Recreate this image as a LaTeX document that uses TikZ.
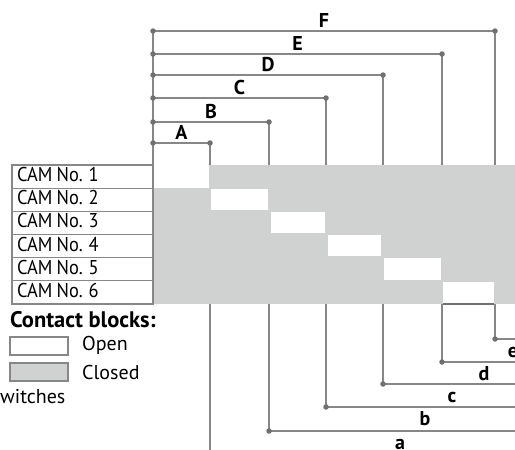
\documentclass[tikz,border=0pt]{standalone}
\usepackage{fontspec}
\setmainfont{PT Sans}
\newfontfamily\condfont{PT Sans}[FakeStretch=0.92, WordSpace=0.9]
\usetikzlibrary{calc}
\definecolor{dimgray}{RGB}{135,135,135}
\definecolor{dotgray}{RGB}{112,112,112}
\definecolor{closedgray}{RGB}{208,209,209}
\tikzset{
  dimline/.style={draw=dimgray, line width=1.1pt},
  dimdot/.style={circle, fill=dotgray, inner sep=0pt, minimum size=5.5pt},
  dimlabel/.style={font=\bfseries\fontsize{20}{20}\selectfont, inner sep=0pt, text height=14pt, text depth=0pt},
  camrow/.style={draw=dimgray, line width=1.1pt, minimum width=141pt, minimum height=23.17pt, outer sep=0pt,
    inner xsep=5pt, inner ysep=0pt, text height=14pt, text depth=4pt, font=\condfont\fontsize{20}{20}\selectfont},
  legbox/.style={draw=dimgray, line width=1.1pt, minimum width=58pt, minimum height=18pt, inner sep=0pt},
  legtext/.style={font=\fontsize{20}{20}\selectfont, inner sep=0pt, anchor=west}
}

\begin{document}
\begin{tikzpicture}[x=1pt,y=-1pt]
        \useasboundingbox (0,0) rectangle (515,450);
        \clip (0,0) rectangle (515,450);
        % column edges, on the top and bottom of the table
        \coordinate (top0) at (153,165); \coordinate (bot0) at (153,304);
        \coordinate (top1) at (210,165); \coordinate (bot1) at (210,304);
        \coordinate (top2) at (269,165); \coordinate (bot2) at (269,304);
        \coordinate (top3) at (326,165); \coordinate (bot3) at (326,304);
        \coordinate (top4) at (383,165); \coordinate (bot4) at (383,304);
        \coordinate (top5) at (442,165); \coordinate (bot5) at (442,304);
        \coordinate (top6) at (495,165); \coordinate (bot6) at (495,304);
        % closed area, then the open blocks
        \fill[closedgray] (top0) rectangle (515,304);
        \fill[white] (153,165) rectangle (209,188);
        \fill[white] (211,189) rectangle (268,210);
        \fill[white] (271,212) rectangle (325,233);
        \fill[white] (328,235) rectangle (381,256);
        \fill[white] (384,258) rectangle (441,280);
        \fill[white] (443,282) rectangle (494,303);
        \draw[dimline, draw=dotgray] (443,304) -- (494,304);
        \draw[dimline] (153,165) -- (153,188);
        % cam rows
        \node[camrow, anchor=north west] (cam1) at (12,165) {\makebox[131pt][l]{CAM No. 1}};
        \node[camrow, anchor=north] (cam2) at (cam1.south) {\makebox[131pt][l]{CAM No. 2}};
        \node[camrow, anchor=north] (cam3) at (cam2.south) {\makebox[131pt][l]{CAM No. 3}};
        \node[camrow, anchor=north] (cam4) at (cam3.south) {\makebox[131pt][l]{CAM No. 4}};
        \node[camrow, anchor=north] (cam5) at (cam4.south) {\makebox[131pt][l]{CAM No. 5}};
        \node[camrow, anchor=north] (cam6) at (cam5.south) {\makebox[131pt][l]{CAM No. 6}};
        % upper dimensions A to F
        \coordinate (A0) at (153,143); \coordinate (A1) at (210,143);
        \coordinate (B0) at (153,122); \coordinate (B1) at (269,122);
        \coordinate (C0) at (153,98);  \coordinate (C1) at (326,98);
        \coordinate (D0) at (153,75);  \coordinate (D1) at (383,75);
        \coordinate (E0) at (153,54);  \coordinate (E1) at (442,54);
        \coordinate (F0) at (153,31);  \coordinate (F1) at (495,31);
        \draw[dimline] (F0) -- (top0);
        \draw[dimline] (A0) -- (A1) -- (top1); \draw[dimline] (B0) -- (B1) -- (top2);
        \draw[dimline] (C0) -- (C1) -- (top3); \draw[dimline] (D0) -- (D1) -- (top4);
        \draw[dimline] (E0) -- (E1) -- (top5); \draw[dimline] (F0) -- (F1) -- (top6);
        \foreach \p in {A,B,C,D,E,F} {
            \node[dimdot] at (\p0) {}; \node[dimdot] at (\p1) {};
        }
        \node[dimlabel, above=3pt] (labA) at ($(A0)!0.5!(A1)$) {A};
        \node[dimlabel, above=3pt] (labB) at ($(B0)!0.5!(B1)$) {B};
        \node[dimlabel, above=3pt] (labC) at ($(C0)!0.5!(C1)$) {C};
        \node[dimlabel, above=3pt] (labD) at ($(D0)!0.5!(D1)$) {D};
        \node[dimlabel, above=3pt] (labE) at ($(E0)!0.5!(E1)$) {E};
        \node[dimlabel, above=3pt] (labF) at ($(F0)!0.5!(F1)$) {F};
        % lower dimensions a to e
        \coordinate (a0) at (269,431); \coordinate (a1) at (531,431);
        \coordinate (b0) at (326,407); \coordinate (b1) at (524,407);
        \coordinate (c0) at (383,384); \coordinate (c1) at (521,384);
        \coordinate (d0) at (442,362); \coordinate (d1) at (526,362);
        \coordinate (e0) at (495,339); \coordinate (e1) at (531,339);
        \coordinate (f0) at (210,460);
        \draw[dimline] (bot1) -- (f0);
        \draw[dimline] (bot2) -- (a0) -- (a1); \draw[dimline] (bot3) -- (b0) -- (b1);
        \draw[dimline] (bot4) -- (c0) -- (c1); \draw[dimline] (bot5) -- (d0) -- (d1);
        \draw[dimline] (bot6) -- (e0) -- (e1);
        \foreach \p in {a,b,c,d,e} {
            \node[dimdot] at (\p0) {};
        }
        \node[dimlabel, below=4pt] (laba) at ($(a0)!0.5!(a1)$) {a};
        \node[dimlabel, below=4pt] (labb) at ($(b0)!0.5!(b1)$) {b};
        \node[dimlabel, below=4pt] (labc) at ($(c0)!0.5!(c1)$) {c};
        \node[dimlabel, below=4pt] (labd) at ($(d0)!0.5!(d1)$) {d};
        \node[dimlabel, below=4pt] (labe) at ($(e0)!0.5!(e1)$) {e};
        % legend
        \node[legtext, font=\bfseries\fontsize{22.5}{22.5}\selectfont] (legtitle) at (10,320) {Contact blocks:};
        \node[legbox, fill=white] (openbox) at (39,346) {};
        \node[legbox, fill=closedgray] (closedbox) at (39,372) {};
        \node[legtext] (opentext) at (82,345) {Open};
        \node[legtext] (closedtext) at (82,372) {Closed};
        \node[legtext] (switchtext) at (0,397) {witches};
    \end{tikzpicture}
\end{document}
